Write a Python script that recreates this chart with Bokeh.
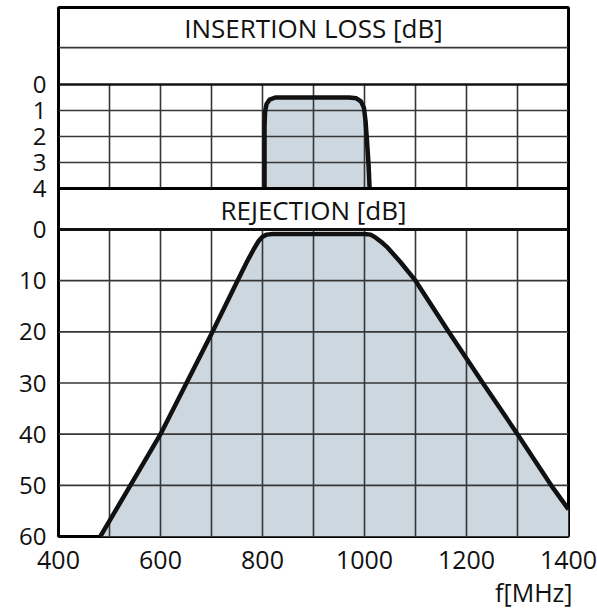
from bokeh.plotting import figure
from bokeh.models import Range1d, FixedTicker, Span, Label, Title
from bokeh.embed import file_html
from bokeh.resources import INLINE

# ---- data ----
freq_grid = [400, 500, 600, 700, 800, 900, 1000, 1100, 1200, 1300, 1400]
freq_label_ticks = [400, 600, 800, 1000, 1200, 1400]
il_ticks = [0, 1, 2, 3, 4]
rej_ticks = [0, 10, 20, 30, 40, 50, 60]

il_freq = [804, 804, 805, 808, 814, 825, 970, 984, 993, 999, 1002, 1005, 1008, 1010]
il_db = [4.0, 1.6, 1.05, 0.75, 0.58, 0.5, 0.5, 0.53, 0.65, 0.9, 1.4, 2.2, 3.1, 4.0]

rej_freq = [482, 541, 600, 651, 702, 751, 770, 782, 792, 800, 808, 820,
            1000, 1012, 1022, 1035, 1045, 1070, 1100, 1165, 1232, 1300, 1366, 1400]
rej_db = [60, 50, 40, 30, 20, 10, 6.2, 4.0, 2.3, 1.4, 1.0, 0.9,
          0.9, 1.0, 1.6, 2.6, 3.5, 6.3, 10, 20, 30, 40, 50, 54.7]

title_il = "INSERTION LOSS [dB]"
title_rej = "REJECTION [dB]"
x_title = "f[MHz]"

FONT = "Open Sans"
TXT = "#111111"
GRID = "#363636"
FILL = "#cdd7df"

x_mid = (freq_grid[0] + freq_grid[-1]) / 2

rej_range = Range1d(60, -43.39)        # rejection scale (main)
il_range = Range1d(17.3846, -2.9615)   # insertion-loss scale (upper panel)

p = figure(width=597, height=610, output_backend="svg", toolbar_location=None,
           x_range=Range1d(freq_grid[0], freq_grid[-1]), y_range=rej_range,
           min_border_left=58, min_border_right=29, min_border_top=7, min_border_bottom=74)
p.extra_y_ranges = {"il": il_range}
p.xgrid.visible = False
p.ygrid.visible = False
p.outline_line_color = "black"
p.outline_line_width = 3
p.background_fill_color = "white"
p.border_fill_color = "white"


def il_to_main(v):
    return rej_range.start + (v - il_range.start) * (rej_range.end - rej_range.start) / (il_range.end - il_range.start)


# y axis: rejection ticks + insertion-loss ticks mapped through the two ranges
il_pos = [il_to_main(v) for v in il_ticks]
overrides = {float(t): str(t) for t in rej_ticks}
overrides.update({pos: str(v) for pos, v in zip(il_pos, il_ticks)})
ya = p.yaxis[0]
ya.ticker = FixedTicker(ticks=[float(t) for t in rej_ticks] + il_pos)
ya.major_label_overrides = overrides
ya.axis_line_color = None
ya.major_tick_line_color = None
ya.minor_tick_line_color = None
ya.major_tick_out = 0
ya.major_label_standoff = 12
ya.major_label_text_font = FONT
ya.major_label_text_font_size = "24px"
ya.major_label_text_color = TXT

xa = p.xaxis[0]
xa.ticker = FixedTicker(ticks=freq_label_ticks)
xa.axis_line_color = None
xa.major_tick_line_color = None
xa.minor_tick_line_color = None
xa.major_tick_out = 0
xa.major_label_standoff = 14
xa.major_label_text_font = FONT
xa.major_label_text_font_size = "25px"
xa.major_label_text_color = TXT

p.add_layout(Title(text=x_title, align="right", offset=-4, standoff=3,
                   text_font=FONT, text_font_size="25px", text_font_style="normal",
                   text_color=TXT), "below")

# ---- insertion loss panel ----
p.varea(x=il_freq, y1=il_db, y2=il_ticks[-1], fill_color=FILL, y_range_name="il")
p.segment(x0=freq_grid[1:-1], y0=il_ticks[0], x1=freq_grid[1:-1], y1=il_ticks[-1],
          line_color=GRID, line_width=1.6, y_range_name="il")
p.segment(x0=freq_grid[0], y0=il_ticks[1:-1], x1=freq_grid[-1], y1=il_ticks[1:-1],
          line_color=GRID, line_width=1.6, y_range_name="il")
p.line(il_freq, il_db, line_color="#111111", line_width=4.5, line_join="round", y_range_name="il")
p.add_layout(Span(location=il_ticks[0], dimension="width", line_color="#111111",
                  line_width=2.5, y_range_name="il"))
p.add_layout(Span(location=-1.42, dimension="width", line_color=GRID,
                  line_width=1.8, y_range_name="il"))
p.add_layout(Span(location=il_ticks[-1], dimension="width", line_color="black",
                  line_width=3, y_range_name="il"))
p.add_layout(Label(x=x_mid, y=-2.19, text=title_il, text_align="center", text_baseline="middle",
                   text_font=FONT, text_font_size="26px", text_color=TXT, y_range_name="il"))

# ---- rejection panel ----
p.varea(x=rej_freq, y1=rej_db, y2=rej_ticks[-1], fill_color=FILL)
p.segment(x0=freq_grid[1:-1], y0=rej_ticks[0], x1=freq_grid[1:-1], y1=rej_ticks[-1],
          line_color=GRID, line_width=1.6)
p.segment(x0=freq_grid[0], y0=rej_ticks[1:-1], x1=freq_grid[-1], y1=rej_ticks[1:-1],
          line_color=GRID, line_width=1.6)
p.line(rej_freq, rej_db, line_color="#111111", line_width=4.5, line_join="round")
p.add_layout(Span(location=rej_ticks[0], dimension="width", line_color="#111111", line_width=3))
p.add_layout(Label(x=x_mid, y=-3.9, text=title_rej, text_align="center", text_baseline="middle",
                   text_font=FONT, text_font_size="26px", text_color=TXT))

open("out.html", "w").write(file_html(p, INLINE))
